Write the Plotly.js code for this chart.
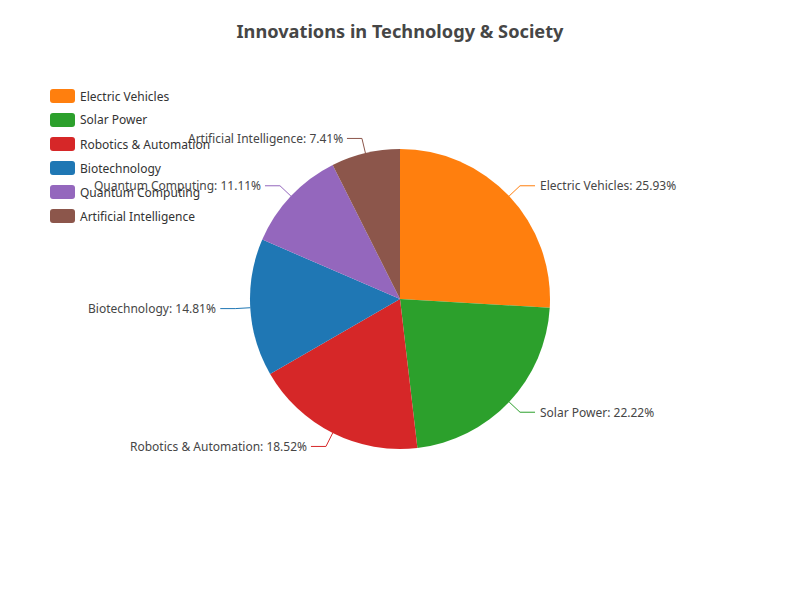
<!DOCTYPE html>
<html>
<head>
<meta charset="utf-8">
<script src="https://cdn.plot.ly/plotly-3.0.1.min.js"></script>
<style>html,body{margin:0;padding:0;background:#fff}#chart{width:800px;height:600px}</style>
</head>
<body>
<div id="chart"></div>
<script>
const categories = ["Electric Vehicles", "Solar Power", "Robotics & Automation", "Biotechnology", "Quantum Computing", "Artificial Intelligence"];
const values = [35, 30, 25, 20, 15, 10];
const colors = ["#ff7f0e", "#2ca02c", "#d62728", "#1f77b4", "#9467bd", "#8c564b"];
const titleText = "Innovations in Technology & Society";

const W = 800, H = 600;
const cx = 400, cy = 299, R = 150;
const FONT = "'Noto Sans', 'DejaVu Sans', sans-serif";
const px = x => x / W;
const py = y => 1 - y / H;

const total = values.reduce((a, b) => a + b, 0);
const shapes = [];
const annotations = [];
let cum = 0;
values.forEach((v, i) => {
  const frac = v / total;
  const mid = (cum + frac / 2) * 2 * Math.PI;
  cum += frac;
  const s = Math.sin(mid), c = Math.cos(mid);
  const x0 = cx + R * s, y0 = cy - R * c;
  const x1 = cx + (R + 15) * s, y1 = cy - (R + 15) * c;
  const right = s >= 0;
  const x2 = x1 + (right ? 15 : -15);
  shapes.push({
    type: 'path', xref: 'paper', yref: 'paper',
    path: `M ${px(x0)} ${py(y0)} L ${px(x1)} ${py(y1)} L ${px(x2)} ${py(y1)}`,
    line: {color: colors[i], width: 1}
  });
  annotations.push({
    xref: 'paper', yref: 'paper', x: px(x2 + (right ? 3 : -2)), y: py(y1),
    xanchor: right ? 'left' : 'right', yanchor: 'middle',
    text: `${categories[i]}: ${(frac * 100).toFixed(2)}%`, showarrow: false,
    font: {family: FONT, size: 12, color: '#464646'}
  });
});

// custom legend (rounded rectangle icons)
categories.forEach((cat, i) => {
  const ly = 96 + i * 24;
  const lx = 50, w = 25, h = 14, r = 3;
  const t = ly - h / 2, b = ly + h / 2, l = lx, rr = lx + w;
  const path = `M ${px(l + r)} ${py(t)} L ${px(rr - r)} ${py(t)} Q ${px(rr)} ${py(t)} ${px(rr)} ${py(t + r)} L ${px(rr)} ${py(b - r)} Q ${px(rr)} ${py(b)} ${px(rr - r)} ${py(b)} L ${px(l + r)} ${py(b)} Q ${px(l)} ${py(b)} ${px(l)} ${py(b - r)} L ${px(l)} ${py(t + r)} Q ${px(l)} ${py(t)} ${px(l + r)} ${py(t)} Z`;
  shapes.push({type: 'path', xref: 'paper', yref: 'paper', path: path, fillcolor: colors[i], line: {width: 0}});
  annotations.push({
    xref: 'paper', yref: 'paper', x: px(78), y: py(ly), xanchor: 'left', yanchor: 'middle',
    text: cat, showarrow: false, font: {family: FONT, size: 12, color: '#333'}
  });
});

const trace = {
  type: 'pie', labels: categories, values: values, sort: false,
  direction: 'clockwise', rotation: 0,
  marker: {colors: colors, line: {width: 0}},
  textinfo: 'none', hoverinfo: 'label+percent', showlegend: false,
  domain: {x: [px(cx - R), px(cx + R)], y: [py(cy + R), py(cy - R)]}
};

const layout = {
  width: W, height: H,
  margin: {l: 0, r: 0, t: 0, b: 0},
  paper_bgcolor: '#fff',
  title: {text: '<b>' + titleText + '</b>', x: 0.5, xanchor: 'center', y: py(32), yanchor: 'middle', yref: 'paper',
          font: {family: FONT, size: 18.2, color: '#464646'}},
  showlegend: false,
  shapes: shapes,
  annotations: annotations
};

Plotly.newPlot('chart', [trace], layout, {displayModeBar: false, staticPlot: true});
</script>
</body>
</html>
